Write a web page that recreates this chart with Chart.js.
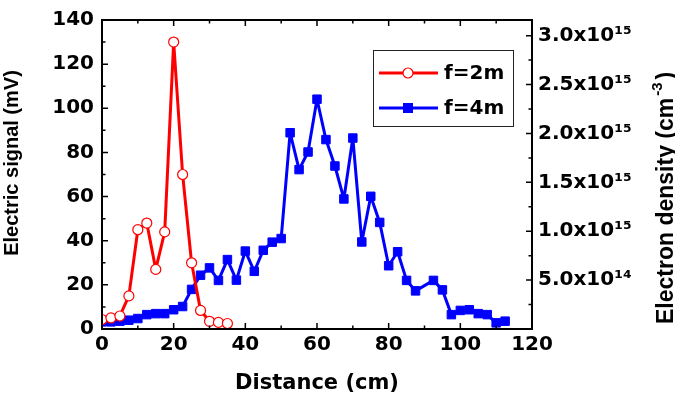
<!DOCTYPE html>
<html>
<head>
<meta charset="utf-8">
<script src="https://cdn.jsdelivr.net/npm/chart.js@4"></script>
<style>
  body { margin: 0; background: #fff; }
  #wrap { width: 675px; height: 404px; position: relative; }
</style>
</head>
<body>
<div id="wrap"><canvas id="grafico"></canvas></div>
<script>
// Dados
const distRed = [0, 2.5, 5, 7.5, 10, 12.5, 15, 17.5, 20, 22.5, 25, 27.5, 30, 32.5, 35];
const signalRed = [4.3, 5, 5.9, 15, 45, 48, 27, 44, 130, 70, 30, 8.4, 3.5, 3, 2.5];

const distBlue = [0, 2.5, 5, 7.5, 10, 12.5, 15, 17.5, 20, 22.5, 25, 27.5, 30, 32.5, 35, 37.5,
  40, 42.5, 45, 47.5, 50, 52.5, 55, 57.5, 60, 62.5, 65, 67.5, 70, 72.5, 75, 77.5, 80, 82.5,
  85, 87.5, 92.5, 95, 97.5, 100, 102.5, 105, 107.5, 110, 112.5];
// densidade em unidades de 1e15 cm^-3
const densityBlue = [0.073, 0.073, 0.08, 0.09, 0.107, 0.147, 0.157, 0.157, 0.197, 0.23, 0.405, 0.55,
  0.625, 0.497, 0.71, 0.5, 0.797, 0.59, 0.805, 0.888, 0.925, 2.007, 1.63, 1.81, 2.35, 1.937,
  1.667, 1.33, 1.953, 0.89, 1.357, 1.09, 0.647, 0.79, 0.497, 0.39, 0.497, 0.4, 0.147, 0.19,
  0.197, 0.157, 0.147, 0.063, 0.08];

const xTicks = [0, 20, 40, 60, 80, 100, 120];
const signalTicks = [0, 20, 40, 60, 80, 100, 120, 140];
const densityTicks = [0.5, 1.0, 1.5, 2.0, 2.5, 3.0];
const densityTickLabels = ['5.0x10¹⁴', '1.0x10¹⁵', '1.5x10¹⁵', '2.0x10¹⁵', '2.5x10¹⁵', '3.0x10¹⁵'];

const legendLabels = ['f=2m', 'f=4m'];

const RED = '#ff0000';
const BLUE = '#0000ff';
const tickFont = { family: 'DejaVu Sans', size: 20, weight: 'bold' };

// moldura e marcas para dentro (estilo Origin)
const framePlugin = {
  id: 'frame',
  afterDatasetsDraw(chart) {
    const { ctx, chartArea: a, scales } = chart;
    ctx.save();
    ctx.strokeStyle = '#000';
    ctx.lineWidth = 2;
    ctx.strokeRect(a.left, a.top, a.right - a.left, a.bottom - a.top);
    ctx.lineWidth = 1.5;
    ctx.beginPath();
    for (let v = 0; v <= 120; v += 10) {
      const px = scales.x.getPixelForValue(v);
      const len = v % 20 === 0 ? 6 : 3.5;
      ctx.moveTo(px, a.bottom); ctx.lineTo(px, a.bottom - len);
      ctx.moveTo(px, a.top); ctx.lineTo(px, a.top + len);
    }
    for (let v = 0; v <= 140; v += 10) {
      const py = scales.y.getPixelForValue(v);
      const len = v % 20 === 0 ? 6 : 3.5;
      ctx.moveTo(a.left, py); ctx.lineTo(a.left + len, py);
    }
    for (let v = 0.25; v <= 3.1; v += 0.25) {
      const py = scales.y2.getPixelForValue(v);
      const len = Math.abs(v * 2 - Math.round(v * 2)) < 0.01 ? 6 : 3.5;
      ctx.moveTo(a.right, py); ctx.lineTo(a.right - len, py);
    }
    ctx.stroke();
    ctx.restore();
  }
};

// legenda com linha + símbolo, e títulos dos eixos verticais (de baixo para cima)
const extrasPlugin = {
  id: 'extras',
  afterDraw(chart) {
    const { ctx } = chart;
    ctx.save();
    // caixa da legenda
    ctx.strokeStyle = '#222';
    ctx.lineWidth = 1;
    ctx.strokeRect(373.5, 50.5, 140, 76);
    const rows = [73, 108];
    chart.data.datasets.forEach((ds, i) => {
      const y = rows[i];
      ctx.strokeStyle = ds.borderColor;
      ctx.lineWidth = 3;
      ctx.beginPath();
      ctx.moveTo(379, y); ctx.lineTo(438, y);
      ctx.stroke();
      if (i === 0) {
        ctx.fillStyle = '#fff';
        ctx.beginPath();
        ctx.arc(408, y, 5, 0, Math.PI * 2);
        ctx.fill();
        ctx.lineWidth = 1.2;
        ctx.stroke();
      } else {
        ctx.fillStyle = ds.borderColor;
        ctx.fillRect(403, y - 5, 10, 10);
      }
      ctx.fillStyle = '#000';
      ctx.font = 'bold 20px "DejaVu Sans"';
      ctx.textAlign = 'left';
      ctx.textBaseline = 'middle';
      ctx.fillText(legendLabels[i], 444, y + 1);
    });
    ctx.restore();

    // título eixo esquerdo
    ctx.save();
    ctx.translate(12, 163);
    ctx.rotate(-Math.PI / 2);
    ctx.fillStyle = '#000';
    ctx.textAlign = 'center';
    ctx.textBaseline = 'middle';
    ctx.font = 'bold 20px "Liberation Sans"';
    ctx.fillText('Electric signal (mV)', 0, 0);
    ctx.restore();

    // título eixo direito
    ctx.save();
    ctx.translate(673, 324);
    ctx.rotate(-Math.PI / 2);
    ctx.fillStyle = '#000';
    ctx.textBaseline = 'alphabetic';
    ctx.textAlign = 'left';
    ctx.font = 'bold 23px "Liberation Sans"';
    const main = 'Electron density (cm';
    ctx.fillText(main, 0, 0);
    let w = ctx.measureText(main).width;
    ctx.font = 'bold 15px "Liberation Sans"';
    ctx.fillText('-3', w + 2, -11);
    w += ctx.measureText('-3').width + 5;
    ctx.font = 'bold 23px "Liberation Sans"';
    ctx.fillText(')', w, 0);
    ctx.restore();
  }
};

const ctx = document.getElementById('grafico').getContext('2d');
const grafico = new Chart(ctx, {
  type: 'line',
  data: {
    datasets: [{
      label: legendLabels[0],
      data: distRed.map((d, i) => ({ x: d, y: signalRed[i] })),
      yAxisID: 'y',
      borderColor: RED,
      borderWidth: 3,
      borderJoinStyle: 'round',
      pointStyle: 'circle',
      pointRadius: 5,
      pointBackgroundColor: '#fff',
      pointBorderColor: RED,
      pointBorderWidth: 1.2,
      tension: 0
    }, {
      label: legendLabels[1],
      data: distBlue.map((d, i) => ({ x: d, y: densityBlue[i] })),
      yAxisID: 'y2',
      borderColor: BLUE,
      borderWidth: 3,
      borderJoinStyle: 'round',
      pointStyle: 'rect',
      pointRadius: 6,
      pointBackgroundColor: BLUE,
      pointBorderColor: BLUE,
      pointBorderWidth: 1,
      tension: 0
    }]
  },
  options: {
    responsive: true,
    maintainAspectRatio: false,
    animation: false,
    layout: { padding: { top: 13, left: 0, right: 0, bottom: 0 } },
    plugins: {
      legend: { display: false },
      tooltip: { enabled: false }
    },
    scales: {
      x: {
        type: 'linear',
        min: 0,
        max: 120,
        afterBuildTicks: s => { s.ticks = xTicks.map(v => ({ value: v })); },
        afterFit: s => { s.height = 75; },
        grid: { display: false, drawTicks: false },
        border: { display: false },
        ticks: { color: '#000', font: tickFont, padding: 4, maxRotation: 0 },
        title: {
          display: true,
          text: 'Distance (cm)',
          color: '#000',
          font: { family: 'DejaVu Sans', size: 21, weight: 'bold' },
          padding: { top: 0, bottom: 8 }
        }
      },
      y: {
        position: 'left',
        min: 0,
        max: 140,
        afterBuildTicks: s => { s.ticks = signalTicks.map(v => ({ value: v })); },
        afterFit: s => { s.width = 102; },
        grid: { display: false, drawTicks: false },
        border: { display: false },
        ticks: { color: '#000', font: tickFont, padding: 8 }
      },
      y2: {
        position: 'right',
        min: 0,
        max: 3.16,
        afterBuildTicks: s => { s.ticks = densityTicks.map(v => ({ value: v })); },
        afterFit: s => { s.width = 143; },
        grid: { display: false, drawTicks: false },
        border: { display: false },
        ticks: {
          color: '#000',
          font: tickFont,
          padding: 6,
          callback: (v, i) => densityTickLabels[i]
        }
      }
    }
  },
  plugins: [framePlugin, extrasPlugin]
});
</script>
</body>
</html>
